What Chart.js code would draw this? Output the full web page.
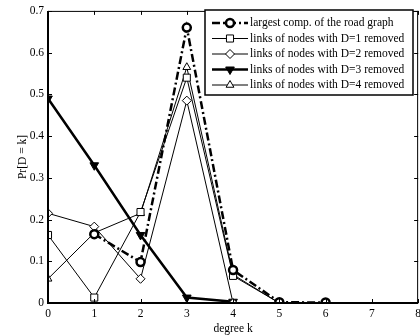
<!DOCTYPE html>
<html>
<head>
<meta charset="utf-8">
<script src="https://cdn.jsdelivr.net/npm/chart.js@4/dist/chart.umd.min.js"></script>
<style>
  html, body { margin: 0; padding: 0; background: #fff; overflow: hidden; width: 420px; height: 336px; }
  #wrap { position: absolute; left: 0; top: 0; width: 425px; height: 336px; }
</style>
</head>
<body>
<div id="wrap"><canvas id="c" width="425" height="336"></canvas></div>
<script>
// degree k on the horizontal axis
const degrees = [0, 1, 2, 3, 4, 5, 6];
const xTickLabels = ['0', '1', '2', '3', '4', '5', '6', '7', '8'];
const yTickLabels = ['0', '0.1', '0.2', '0.3', '0.4', '0.5', '0.6', '0.7'];

// Pr[D = k] for each graph
const largestComp = [null, 0.165, 0.098, 0.66, 0.079, 0.002, 0.001];
const d1Removed   = [0.163, 0.013, 0.218, 0.54, 0.065, 0.0, null];
const d2Removed   = [0.215, 0.183, 0.058, 0.485, 0.0, 0.0, null];
const d3Removed   = [0.49, 0.33, 0.163, 0.013, 0.003, null, null];
const d4Removed   = [0.058, 0.168, 0.215, 0.565, 0.068, 0.0, null];

const seriesNames = [
  'largest comp. of the road graph',
  'links of nodes with D=1 removed',
  'links of nodes with D=2 removed',
  'links of nodes with D=3 removed',
  'links of nodes with D=4 removed'
];

const SERIF = '"Liberation Serif", "Times New Roman", serif';
const FS = 11.5;

function pts(arr) {
  return degrees.map((k, i) => ({ x: k, y: arr[i] }));
}

const datasets = [
  { label: seriesNames[0], data: pts(largestComp), borderColor: '#000', borderWidth: 2.5,
    borderDash: [8, 3, 2, 3], pointStyle: 'circle', pointRadius: 4, pointBorderWidth: 2.5,
    pointBackgroundColor: '#fff', pointBorderColor: '#000' },
  { label: seriesNames[1], data: pts(d1Removed), borderColor: '#000', borderWidth: 1,
    pointStyle: 'rect', pointRadius: 5, pointBorderWidth: 1,
    pointBackgroundColor: '#fff', pointBorderColor: '#000' },
  { label: seriesNames[2], data: pts(d2Removed), borderColor: '#000', borderWidth: 1,
    pointStyle: 'rectRot', pointRadius: 4.5, pointBorderWidth: 1,
    pointBackgroundColor: '#fff', pointBorderColor: '#000' },
  { label: seriesNames[3], data: pts(d3Removed), borderColor: '#000', borderWidth: 2.5,
    pointStyle: 'triangle', pointRotation: 180, pointRadius: 5, pointBorderWidth: 1,
    pointBackgroundColor: '#000', pointBorderColor: '#000' },
  { label: seriesNames[4], data: pts(d4Removed), borderColor: '#000', borderWidth: 1,
    pointStyle: 'triangle', pointRadius: 4.5, pointBorderWidth: 1,
    pointBackgroundColor: '#fff', pointBorderColor: '#000' }
];
datasets.forEach(d => { d.fill = false; d.tension = 0; d.spanGaps = false; d.pointHoverRadius = d.pointRadius; });

// axis frame with inward tick marks on all four sides
const framePlugin = {
  id: 'frame',
  afterDatasetsDraw(chart) {
    const { ctx, chartArea: a, scales } = chart;
    ctx.save();
    ctx.strokeStyle = '#000';
    ctx.lineWidth = 1;
    const tl = 4;
    ctx.beginPath();
    scales.x.ticks.forEach(t => {
      const px = Math.round(scales.x.getPixelForValue(t.value)) + 0.5;
      ctx.moveTo(px, a.bottom); ctx.lineTo(px, a.bottom - tl);
      ctx.moveTo(px, a.top); ctx.lineTo(px, a.top + tl);
    });
    scales.y.ticks.forEach(t => {
      const py = Math.round(scales.y.getPixelForValue(t.value)) + 0.5;
      ctx.moveTo(a.left, py); ctx.lineTo(a.left + tl, py);
      ctx.moveTo(a.right, py); ctx.lineTo(a.right - tl, py);
    });
    ctx.stroke();
    // thin top / right edges
    ctx.beginPath();
    ctx.moveTo(a.left, a.top + 0.5); ctx.lineTo(a.right, a.top + 0.5);
    ctx.moveTo(a.right - 0.5, a.top); ctx.lineTo(a.right - 0.5, a.bottom);
    ctx.stroke();
    // heavier left / bottom axes
    ctx.lineWidth = 2;
    ctx.beginPath();
    ctx.moveTo(a.left, a.top); ctx.lineTo(a.left, a.bottom);
    ctx.lineTo(a.right, a.bottom);
    ctx.stroke();
    ctx.restore();
  },
  afterDraw(chart) {
    // boxed legend in the upper right with line samples
    const { ctx } = chart;
    const bx = 205, by = 10, bw = 208, bh = 85;
    ctx.save();
    ctx.fillStyle = '#fff';
    ctx.fillRect(bx, by, bw, bh);
    ctx.strokeStyle = '#000';
    ctx.lineWidth = 1.5;
    ctx.strokeRect(bx, by, bw, bh);
    const rowY = [23, 38.5, 54, 69.5, 85];
    chart.data.datasets.forEach((ds, i) => {
      const y = rowY[i];
      ctx.save();
      ctx.strokeStyle = ds.borderColor;
      ctx.lineWidth = ds.borderWidth;
      ctx.setLineDash(ds.borderDash || []);
      ctx.beginPath();
      ctx.moveTo(212, y); ctx.lineTo(248, y);
      ctx.stroke();
      ctx.restore();
      ctx.save();
      ctx.fillStyle = ds.pointBackgroundColor;
      ctx.strokeStyle = ds.pointBorderColor;
      ctx.lineWidth = ds.pointBorderWidth;
      Chart.helpers.drawPoint(ctx, {
        pointStyle: ds.pointStyle, radius: ds.pointRadius,
        rotation: ds.pointRotation || 0, borderWidth: ds.pointBorderWidth
      }, 230, y);
      ctx.restore();
      ctx.fillStyle = '#000';
      ctx.font = FS + 'px ' + SERIF;
      ctx.textAlign = 'left';
      ctx.textBaseline = 'middle';
      ctx.fillText(ds.label, 250, y);
    });
    ctx.restore();
  }
};

new Chart(document.getElementById('c'), {
  type: 'line',
  data: { datasets },
  options: {
    responsive: false,
    animation: false,
    events: [],
    layout: { padding: { left: 0, right: 6, top: 10, bottom: 0 } },
    plugins: { legend: { display: false }, tooltip: { enabled: false } },
    scales: {
      x: {
        type: 'linear', min: 0, max: 8,
        grid: { display: false, drawTicks: false },
        border: { display: false },
        ticks: {
          stepSize: 1, padding: 4, color: '#000',
          font: { family: SERIF, size: FS },
          callback: (v) => xTickLabels[v] ?? ''
        },
        title: { display: true, text: 'degree k', color: '#000', font: { family: SERIF, size: FS }, padding: { top: -5, bottom: 0 } },
        afterFit(s) { s.height = 33; }
      },
      y: {
        type: 'linear', min: 0, max: 0.7,
        grid: { display: false, drawTicks: false },
        border: { display: false },
        ticks: {
          stepSize: 0.1, padding: 4, color: '#000',
          font: { family: SERIF, size: FS },
          callback: (v) => yTickLabels[Math.round(v * 10)] ?? ''
        },
        title: { display: true, text: 'Pr[D = k]', color: '#000', font: { family: SERIF, size: FS }, padding: { top: 16, bottom: 0 } },
        afterFit(s) { s.width = 48; }
      }
    }
  },
  plugins: [framePlugin]
});
</script>
</body>
</html>
